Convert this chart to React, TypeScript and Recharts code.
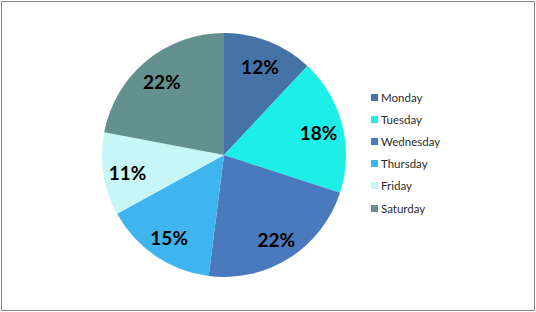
import * as React from 'react';
import { PieChart, Pie, Cell } from 'recharts';

const days = ['Monday', 'Tuesday', 'Wednesday', 'Thursday', 'Friday', 'Saturday'];
const shares = [12, 18, 22, 15, 11, 22];
const colors = ['#4673A7', '#1BEFE8', '#4B79BD', '#3FB5EF', '#C6F7F6', '#659090'];

const data = days.map((name, i) => ({ name, value: shares[i] }));

const RADIAN = Math.PI / 180;

const renderLabel = (props: any) => {
  const { cx, cy, midAngle, outerRadius, value } = props;
  const r = outerRadius * 0.8;
  const x = cx + r * Math.cos(-midAngle * RADIAN);
  const y = cy + r * Math.sin(-midAngle * RADIAN) + 2;
  return (
    <text
      x={x}
      y={y}
      fill="#000"
      textAnchor="middle"
      dominantBaseline="central"
      fontFamily="Lato, 'Open Sans', sans-serif"
      fontWeight="bold"
      fontSize={19}
    >
      {value}%
    </text>
  );
};

export default function App() {
  return (
    <div style={{ position: 'absolute', left: 0, top: 0, width: 536, height: 312, background: '#fff' }}>
      <div
        style={{
          position: 'absolute',
          left: 1,
          top: 1,
          width: 534,
          height: 310,
          border: '1px solid #868686',
          boxSizing: 'border-box'
        }}
      />
      <div style={{ position: 'absolute', left: 0, top: 0 }}>
        <PieChart width={536} height={312} margin={{ top: 0, right: 0, bottom: 0, left: 0 }}>
          <Pie
            data={data}
            dataKey="value"
            nameKey="name"
            cx={224}
            cy={155}
            outerRadius={122}
            startAngle={90}
            endAngle={-270}
            stroke="none"
            label={renderLabel}
            labelLine={false}
            isAnimationActive={false}
          >
            {data.map((d, i) => (
              <Cell key={d.name} fill={colors[i]} />
            ))}
          </Pie>
        </PieChart>
      </div>
      {days.map((d, i) => (
        <div
          key={d}
          style={{
            position: 'absolute',
            left: 371,
            top: 97 + i * 22.2 - 8,
            height: 16,
            display: 'flex',
            alignItems: 'center',
            fontFamily: "Lato, 'Open Sans', sans-serif",
            fontSize: 11.5,
            color: '#2b2b2b'
          }}
        >
          <span style={{ display: 'inline-block', width: 7, height: 7, background: colors[i], marginRight: 3 }} />
          <span>{d}</span>
        </div>
      ))}
    </div>
  );
}
